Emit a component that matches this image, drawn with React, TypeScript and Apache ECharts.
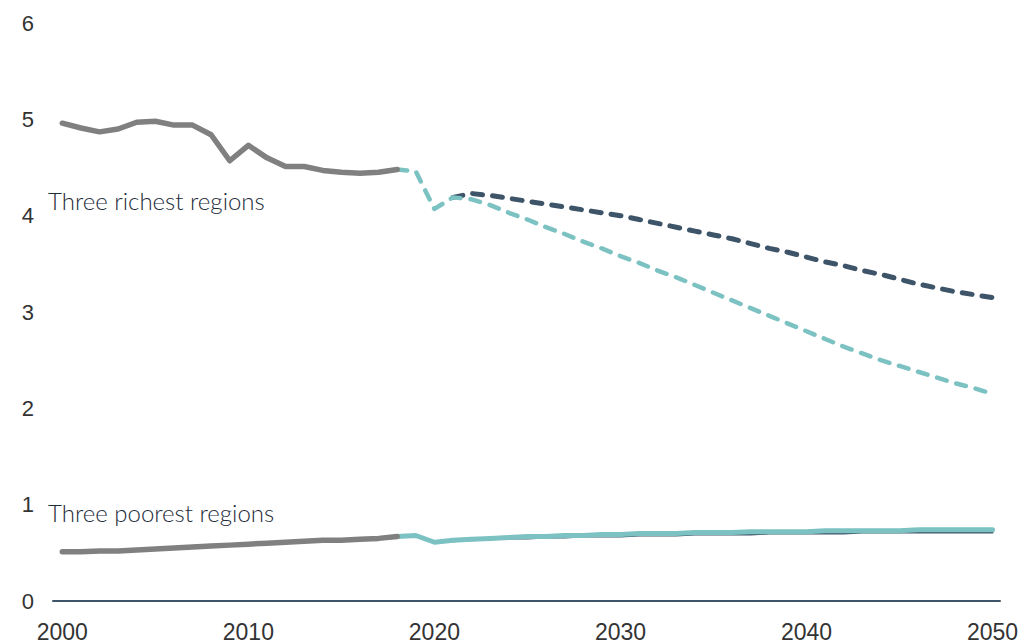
import React, { useEffect, useRef } from "react";
import * as echarts from "echarts";

const histYears = [2000, 2001, 2002, 2003, 2004, 2005, 2006, 2007, 2008, 2009, 2010, 2011, 2012, 2013, 2014, 2015, 2016, 2017, 2018];
const richHist = [4.96, 4.91, 4.87, 4.9, 4.97, 4.98, 4.94, 4.94, 4.84, 4.57, 4.73, 4.6, 4.51, 4.51, 4.47, 4.45, 4.44, 4.45, 4.48];
const poorHist = [0.51, 0.51, 0.52, 0.52, 0.53, 0.54, 0.55, 0.56, 0.57, 0.58, 0.59, 0.6, 0.61, 0.62, 0.63, 0.63, 0.64, 0.65, 0.67];

const projYears = [2018, 2019, 2020, 2021, 2022, 2023, 2024, 2025, 2026, 2027, 2028, 2029, 2030, 2031, 2032, 2033, 2034, 2035, 2036, 2037, 2038, 2039, 2040, 2041, 2042, 2043, 2044, 2045, 2046, 2047, 2048, 2049, 2050];
const richTeal = [4.48, 4.46, 4.07, 4.19, 4.17, 4.11, 4.03, 3.96, 3.88, 3.81, 3.73, 3.66, 3.58, 3.51, 3.43, 3.36, 3.28, 3.2, 3.12, 3.04, 2.96, 2.88, 2.8, 2.72, 2.64, 2.57, 2.5, 2.44, 2.38, 2.32, 2.26, 2.21, 2.15];
const poorTeal = [0.67, 0.68, 0.61, 0.63, 0.64, 0.65, 0.66, 0.67, 0.67, 0.68, 0.68, 0.69, 0.69, 0.7, 0.7, 0.7, 0.71, 0.71, 0.71, 0.72, 0.72, 0.72, 0.72, 0.73, 0.73, 0.73, 0.73, 0.73, 0.74, 0.74, 0.74, 0.74, 0.74];

const darkYears = [2021, 2022, 2023, 2024, 2025, 2026, 2027, 2028, 2029, 2030, 2031, 2032, 2033, 2034, 2035, 2036, 2037, 2038, 2039, 2040, 2041, 2042, 2043, 2044, 2045, 2046, 2047, 2048, 2049, 2050];
const richDark = [4.19, 4.23, 4.21, 4.18, 4.15, 4.12, 4.09, 4.06, 4.03, 4.0, 3.96, 3.92, 3.88, 3.84, 3.8, 3.76, 3.71, 3.66, 3.62, 3.57, 3.52, 3.48, 3.43, 3.39, 3.34, 3.29, 3.25, 3.21, 3.18, 3.15];
const poorDarkYears = [2020, 2021, 2022, 2023, 2024, 2025, 2026, 2027, 2028, 2029, 2030, 2031, 2032, 2033, 2034, 2035, 2036, 2037, 2038, 2039, 2040, 2041, 2042, 2043, 2044, 2045, 2046, 2047, 2048, 2049, 2050];
const poorDark = [0.61, 0.62, 0.63, 0.64, 0.65, 0.65, 0.66, 0.66, 0.67, 0.67, 0.67, 0.68, 0.68, 0.68, 0.69, 0.69, 0.69, 0.69, 0.7, 0.7, 0.7, 0.7, 0.7, 0.71, 0.71, 0.71, 0.71, 0.71, 0.71, 0.71, 0.71];

const xTickLabels = [2000, 2010, 2020, 2030, 2040, 2050];
const labelRich = "Three richest regions";
const labelPoor = "Three poorest regions";

const GREY = "#808080";
const TEAL = "#7cc2c2";
const DARK = "#3e5468";
const AXIS_FONT = "'Liberation Sans', Arial, sans-serif";

const pairs = (xs: number[], ys: number[]) => xs.map((x, i) => [x, ys[i]]);

export default function App() {
  const ref = useRef<HTMLDivElement>(null);
  useEffect(() => {
    if (!ref.current) return;
    const chart = echarts.init(ref.current, null, { renderer: "svg" });
    const lineBase = { type: "line", showSymbol: false, symbol: "none", smooth: false, silent: true };
    chart.setOption({
      animation: false,
      grid: { left: 53, right: 26, top: 23, bottom: 43, containLabel: false },
      xAxis: {
        type: "value",
        min: 1999.5,
        max: 2050.4,
        splitLine: { show: false },
        axisTick: { show: false },
        axisLine: { show: true, lineStyle: { color: DARK, width: 2 } },
        axisLabel: {
          customValues: xTickLabels,
          color: "#333",
          fontSize: 23,
          fontFamily: AXIS_FONT,
          margin: 19,
          formatter: (v: number) => String(v),
        },
      },
      yAxis: {
        type: "value",
        min: 0,
        max: 6,
        interval: 1,
        splitLine: { show: false },
        axisTick: { show: false },
        axisLine: { show: false },
        axisLabel: {
          color: "#333",
          fontSize: 22,
          fontFamily: AXIS_FONT,
          margin: 19,
        },
      },
      graphic: [
        {
          type: "text",
          left: 48,
          top: 188,
          style: { text: labelRich, fill: "#1d2b3a", font: "300 24px Lato, 'Open Sans', sans-serif" },
        },
        {
          type: "text",
          left: 48,
          top: 500,
          style: { text: labelPoor, fill: "#1d2b3a", font: "300 24px Lato, 'Open Sans', sans-serif" },
        },
      ],
      series: [
        {
          ...lineBase,
          name: "poorDark",
          z: 2,
          data: pairs(poorDarkYears, poorDark),
          lineStyle: { color: DARK, width: 2, cap: "round" },
        },
        {
          ...lineBase,
          name: "poorTeal",
          z: 3,
          data: pairs(projYears, poorTeal),
          lineStyle: { color: TEAL, width: 5, cap: "round", join: "round" },
        },
        {
          ...lineBase,
          name: "richDark",
          z: 3,
          data: pairs(darkYears, richDark),
          lineStyle: { color: DARK, width: 5, type: [10, 10], cap: "round", join: "round" },
        },
        {
          ...lineBase,
          name: "richTeal",
          z: 4,
          data: pairs(projYears, richTeal),
          lineStyle: { color: TEAL, width: 4.5, type: [10, 10], cap: "round", join: "round" },
        },
        {
          ...lineBase,
          name: "richHist",
          z: 5,
          data: pairs(histYears, richHist),
          lineStyle: { color: GREY, width: 5.5, cap: "round", join: "round" },
        },
        {
          ...lineBase,
          name: "poorHist",
          z: 5,
          data: pairs(histYears, poorHist),
          lineStyle: { color: GREY, width: 5.5, cap: "round", join: "round" },
        },
      ],
    });
    return () => chart.dispose();
  }, []);
  return (
    <div
      ref={ref}
      style={{ position: "fixed", left: 0, top: 0, width: 1026, height: 644, background: "#fff" }}
    />
  );
}
